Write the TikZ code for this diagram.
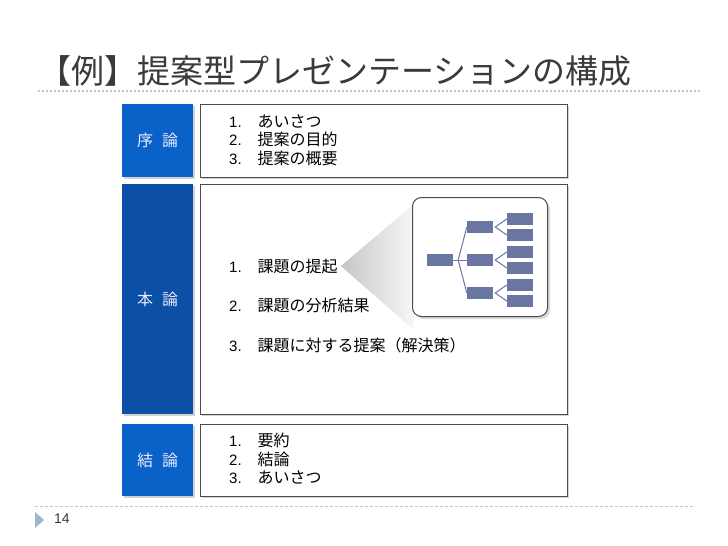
\documentclass[tikz,border=0pt]{standalone}
\usepackage{fontspec}
\setmainfont{Liberation Sans}
\newfontfamily\jp{Noto Sans CJK JP}
\usepackage{xcolor}
\usetikzlibrary{positioning}

\definecolor{secblue}{HTML}{0A62C8}
\definecolor{mainblue}{HTML}{0B4FA6}
\definecolor{slate}{HTML}{6A76A2}
\definecolor{rulegray}{HTML}{B9C7D0}
\definecolor{marker}{HTML}{9DB5CF}
\definecolor{titlegray}{HTML}{3A3A3A}

\begin{document}
\begin{tikzpicture}[x=1pt,y=-1pt,
	secbox/.style={fill=secblue,text=white!92!blue,font=\jp\fontsize{16}{18}\selectfont,anchor=north west,minimum width=71pt,inner sep=0pt},
	listbox/.style={draw=gray!60!black,line width=0.9pt,fill=white,anchor=north west,minimum width=367pt,inner sep=0pt},
	itemtext/.style={anchor=west,font=\fontsize{15}{17}\selectfont,inner sep=1pt},
	treebox/.style={fill=slate,minimum width=26pt,minimum height=12pt,inner sep=0pt},
	treeline/.style={draw=slate,line width=1pt}]
	\useasboundingbox (0,0) rectangle (728,546);

	% title and rules
	\node[anchor=west,text=titlegray,font=\jp\fontsize{33}{36}\selectfont,inner sep=0pt] (title) at (38,71) {【例】提案型プレゼンテーションの構成};
	\draw[rulegray,line width=1.3pt,dash pattern=on 2pt off 2pt] (38,91) -- (700,91);
	\draw[rulegray,line width=1pt,dash pattern=on 3pt off 2pt] (35,506) -- (695,506);
	\fill[marker] (35,512) -- (44,520) -- (35,528) -- cycle;
	\node[anchor=west,text=titlegray,font=\fontsize{14}{16}\selectfont,inner sep=0pt] (page) at (54,519) {14};

	% shadows
	\foreach \y/\h in {104/73,184/230,424/72}{
		\fill[gray!35] (124,\y+2) rectangle (195,\y+\h+2);
		\fill[gray!35] (202,\y+2) rectangle (569,\y+\h+2);
	}

	% left column
	\node[secbox,minimum height=73pt] (jo) at (122,104) {序\hspace{9pt}論};
	\node[secbox,fill=mainblue,minimum height=230pt] (hon) at (122,184) {本\hspace{9pt}論};
	\node[secbox,minimum height=72pt] (ketsu) at (122,424) {結\hspace{9pt}論};

	% right column
	\node[listbox,minimum height=73pt] (jolist) at (200,104) {};
	\node[listbox,minimum height=230pt] (honlist) at (200,184) {};
	\node[listbox,minimum height=72pt] (ketsulist) at (200,424) {};

	\node[itemtext] (jo1) at (228,142) {\begin{tabular}{@{}l@{\hspace{16pt}}l@{}}1. & \jp\fontsize{16}{17}\selectfont あいさつ\\2. & \jp\fontsize{16}{17}\selectfont 提案の目的\\3. & \jp\fontsize{16}{17}\selectfont 提案の概要\end{tabular}};
	\node[itemtext] (hon1) at (228,266) {1.\hspace{16pt}{\jp\fontsize{16}{17}\selectfont 課題の提起}};
	\node[itemtext] (hon2) at (228,305) {2.\hspace{16pt}{\jp\fontsize{16}{17}\selectfont 課題の分析結果}};
	\node[itemtext] (hon3) at (228,345) {3.\hspace{16pt}{\jp\fontsize{16}{17}\selectfont 課題に対する提案（解決策）}};
	\node[itemtext] (ketsu1) at (228,461) {\begin{tabular}{@{}l@{\hspace{16pt}}l@{}}1. & \jp\fontsize{16}{17}\selectfont 要約\\2. & \jp\fontsize{16}{17}\selectfont 結論\\3. & \jp\fontsize{16}{17}\selectfont あいさつ\end{tabular}};

	% zoom wedge and inset
	\coordinate (apex) at ([xshift=2pt]hon1.east);
	\shade[left color=gray!45,right color=gray!6] (apex) -- (414,204) -- (414,330) -- cycle;
	\fill[gray!30,rounded corners=9pt] (415,200) rectangle (550,319);
	\node[draw=gray!60!black,line width=1pt,fill=white,rounded corners=9pt,minimum width=135pt,minimum height=119pt,anchor=north west,inner sep=0pt] (inset) at (412,197) {};

	% tree
	\node[treebox] (root) at (440,260) {};
	\node[treebox] (m1) at (480,227) {};
	\node[treebox] (m2) at (480,260) {};
	\node[treebox] (m3) at (480,293) {};
	\node[treebox] (l1) at (520,219) {};
	\node[treebox] (l2) at (520,235) {};
	\node[treebox] (l3) at (520,252) {};
	\node[treebox] (l4) at (520,268) {};
	\node[treebox] (l5) at (520,285) {};
	\node[treebox] (l6) at (520,301) {};
	\coordinate (rb) at ([xshift=5pt]root.east);
	\draw[treeline] (root.east) -- (rb);
	\foreach \m in {m1,m2,m3}
		\draw[treeline] (rb) -- (\m.west);
	\foreach \m/\a/\b in {m1/l1/l2,m2/l3/l4,m3/l5/l6}{
		\draw[treeline] (\a.west) -- ([xshift=2pt]\m.east) -- (\b.west);
	}
\end{tikzpicture}
\end{document}
